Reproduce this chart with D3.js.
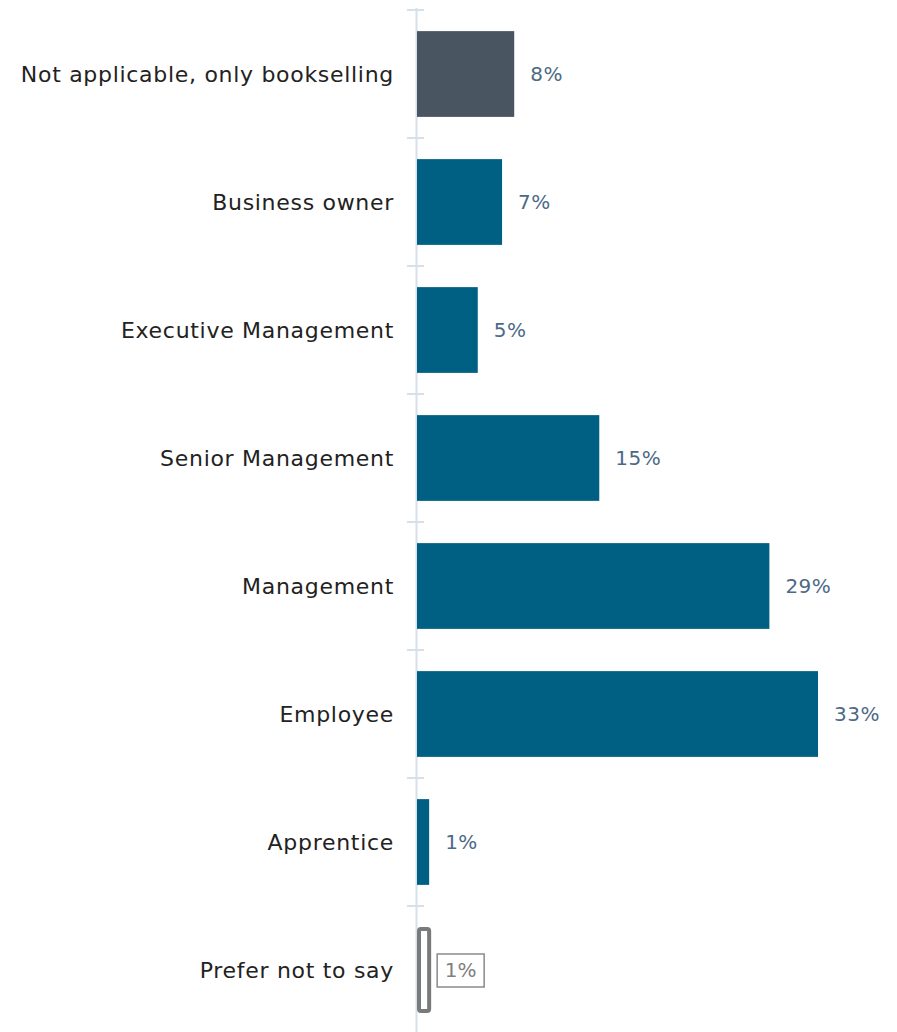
<!DOCTYPE html>
<html>
<head>
<meta charset="utf-8">
<script src="https://cdn.jsdelivr.net/npm/d3@7"></script>
<style>
  body { margin: 0; background: #fff; }
  svg text { font-family: "Century Gothic", "DejaVu Sans", sans-serif; }
</style>
</head>
<body>
<svg id="chart" width="897" height="1032"></svg>
<script>
// Chart data
const categories = [
  'Not applicable, only bookselling',
  'Business owner',
  'Executive Management',
  'Senior Management',
  'Management',
  'Employee',
  'Apprentice',
  'Prefer not to say'
];
const values = [8, 7, 5, 15, 29, 33, 1, 1];
const valueLabels = ['8%', '7%', '5%', '15%', '29%', '33%', '1%', '1%'];
const barStyles = ['neutral', 'main', 'main', 'main', 'main', 'main', 'main', 'outline'];

const data = categories.map((c, i) => ({ cat: c, value: values[i], label: valueLabels[i], style: barStyles[i] }));

const svg = d3.select('#chart');
const margin = { left: 417, top: 10 };
const step = 128;

const y = d3.scaleBand()
  .domain(categories)
  .range([margin.top, margin.top + step * categories.length])
  .paddingInner(0.33)
  .paddingOuter(0.165);

const x = d3.scaleLinear()
  .domain([0, 33])
  .range([margin.left, margin.left + 401]);

// Axis line with ticks between bands
const axisG = svg.append('g');
axisG.append('line')
  .attr('x1', margin.left - 0.5).attr('x2', margin.left - 0.5)
  .attr('y1', 8).attr('y2', 1032)
  .attr('stroke', '#d5e0ea').attr('stroke-width', 2);

const tickYs = d3.range(categories.length).map(i => margin.top + i * step);
axisG.selectAll('.tick')
  .data(tickYs)
  .enter()
  .append('line')
  .attr('class', 'tick')
  .attr('x1', margin.left - 10).attr('x2', margin.left + 7)
  .attr('y1', d => d).attr('y2', d => d)
  .attr('stroke', '#d5e0ea').attr('stroke-width', 2);

// Category labels
svg.selectAll('.cat-label')
  .data(data)
  .enter()
  .append('text')
  .attr('class', 'cat-label')
  .attr('x', 394)
  .attr('y', d => y(d.cat) + y.bandwidth() / 2)
  .attr('dy', '0.35em')
  .attr('text-anchor', 'end')
  .attr('font-size', 22)
  .attr('letter-spacing', 0.7)
  .attr('fill', '#222')
  .text(d => d.cat);

// Bars
const colors = { neutral: '#4a5562', main: '#006084' };
svg.selectAll('.bar')
  .data(data.filter(d => d.style !== 'outline'))
  .enter()
  .append('rect')
  .attr('class', 'bar')
  .attr('x', x(0))
  .attr('y', d => y(d.cat))
  .attr('width', d => x(d.value) - x(0))
  .attr('height', y.bandwidth())
  .attr('fill', d => colors[d.style]);

// Outline bar for "Prefer not to say"
const outline = data.filter(d => d.style === 'outline');
svg.selectAll('.bar-outline')
  .data(outline)
  .enter()
  .append('rect')
  .attr('class', 'bar-outline')
  .attr('x', x(0) + 2)
  .attr('y', d => y(d.cat) + 2)
  .attr('width', d => x(d.value) - x(0) - 2)
  .attr('height', y.bandwidth() - 4)
  .attr('rx', 2)
  .attr('fill', '#fff')
  .attr('stroke', '#7a7a7a')
  .attr('stroke-width', 4);

// Value labels
svg.selectAll('.bar-label')
  .data(data.filter(d => d.style !== 'outline'))
  .enter()
  .append('text')
  .attr('class', 'bar-label')
  .attr('x', d => x(d.value) + 16)
  .attr('y', d => y(d.cat) + y.bandwidth() / 2)
  .attr('dy', '0.35em')
  .attr('font-size', 20)
  .attr('letter-spacing', 0.5)
  .attr('fill', '#4d6a85')
  .text(d => d.label);

// Boxed label for outline bar
outline.forEach(d => {
  const cy = y(d.cat) + y.bandwidth() / 2;
  const lx = x(d.value) + 8;
  svg.append('rect')
    .attr('x', lx).attr('y', cy - 16)
    .attr('width', 47).attr('height', 33)
    .attr('fill', '#fff')
    .attr('stroke', '#8a8a8a')
    .attr('stroke-width', 1.5);
  svg.append('text')
    .attr('x', lx + 23.5)
    .attr('y', cy)
    .attr('dy', '0.35em')
    .attr('text-anchor', 'middle')
    .attr('font-size', 20)
    .attr('fill', '#808080')
    .text(d.label);
});
</script>
</body>
</html>
